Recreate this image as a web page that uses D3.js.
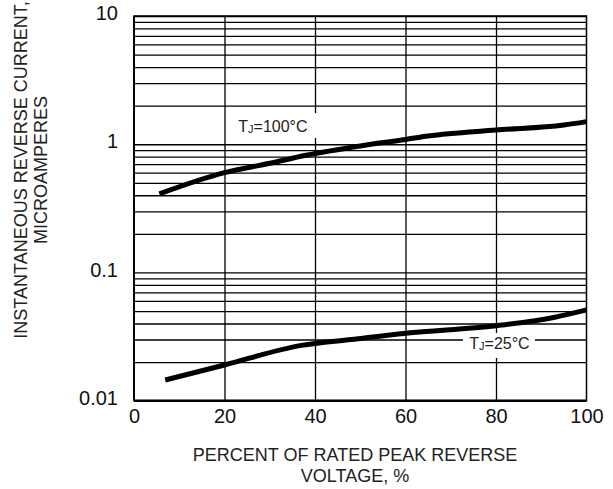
<!DOCTYPE html>
<html>
<head>
<meta charset="utf-8">
<script src="https://cdn.jsdelivr.net/npm/d3@7"></script>
<style>
  html, body { margin: 0; padding: 0; background: #fff; }
  svg { display: block; font-family: "Liberation Sans", Arial, sans-serif; }
</style>
</head>
<body>
<svg id="chart" width="613" height="489"></svg>
<script>
// ---- data ----
const xTicks = [0, 20, 40, 60, 80, 100];
const yTicks = [0.01, 0.1, 1, 10];
const yTickLabels = ["0.01", "0.1", "1", "10"];

const pct100 = [5.6, 20, 30, 38, 50, 60, 65, 80, 95, 100];
const cur100 = [0.41, 0.60, 0.71, 0.82, 0.97, 1.09, 1.16, 1.29, 1.41, 1.50];

const pct25 = [6.9, 20, 37, 48, 60, 80, 93, 100];
const cur25 = [0.0145, 0.019, 0.027, 0.030, 0.0336, 0.0384, 0.0448, 0.0511];

const seriesLabels = [
  { t: "T", sub: "J", rest: "=100°C", x: 65, y: 1.55 },
  { t: "T", sub: "J", rest: "=25°C", x: 83, y: 0.0245 }
];

// ---- layout ----
const svg = d3.select("#chart");
const L = 134, R = 586.5, T = 16, B = 400.7;

const x = d3.scaleLinear().domain([0, 100]).range([L, R]);
const y = d3.scaleLog().domain([0.01, 10]).range([B, T]);

// minor log grid values
const gridVals = [];
for (let d = 0.01; d < 10; d *= 10) {
  for (let k = 1; k <= 9; k++) gridVals.push(+(k * d).toPrecision(3));
}
gridVals.push(10);

// horizontal gridlines
svg.append("g")
  .attr("transform", `translate(${L},0)`)
  .call(d3.axisLeft(y).tickValues(gridVals).tickFormat("").tickSizeInner(-(R - L)).tickSizeOuter(0))
  .call(g => g.select(".domain").remove())
  .call(g => g.selectAll("line").attr("stroke", "#000").attr("stroke-width", 1.3));

// vertical gridlines
svg.append("g")
  .attr("transform", `translate(0,${B})`)
  .call(d3.axisBottom(x).tickValues([20, 40, 60, 80]).tickFormat("").tickSizeInner(-(B - T)).tickSizeOuter(0))
  .call(g => g.select(".domain").remove())
  .call(g => g.selectAll("line").attr("stroke", "#000").attr("stroke-width", 1.3));

// frame
svg.append("rect")
  .attr("x", L).attr("y", T).attr("width", R - L).attr("height", B - T)
  .attr("fill", "none").attr("stroke", "#000").attr("stroke-width", 1.5);
svg.append("line").attr("x1", L).attr("x2", R).attr("y1", B).attr("y2", B)
  .attr("stroke", "#000").attr("stroke-width", 2.2);
svg.append("line").attr("x1", L).attr("x2", L).attr("y1", T).attr("y2", B)
  .attr("stroke", "#000").attr("stroke-width", 2);

// tick labels
svg.append("g")
  .attr("transform", `translate(0,${B})`)
  .call(d3.axisBottom(x).tickValues(xTicks).tickFormat(d3.format("d")).tickSize(0).tickPadding(8))
  .call(g => g.select(".domain").remove())
  .call(g => g.selectAll("text").attr("font-size", 20).attr("fill", "#111")
    .attr("font-family", "'Liberation Sans', Arial, sans-serif"));

svg.append("g")
  .attr("transform", `translate(${L},0)`)
  .call(d3.axisLeft(y).tickValues(yTicks).tickFormat((d, i) => yTickLabels[i]).tickSize(0).tickPadding(16))
  .call(g => g.select(".domain").remove())
  .call(g => g.selectAll("text").attr("font-size", 20).attr("fill", "#111").attr("dy", "0.18em")
    .attr("font-family", "'Liberation Sans', Arial, sans-serif"));

// series label boxes
const boxes = [
  { x0: 235, x1: 317, y0: 113, y1: 138 },
  { x0: 463, x1: 535, y0: 333, y1: 358 }
];
svg.selectAll("rect.lblbox").data(boxes).enter().append("rect")
  .attr("class", "lblbox")
  .attr("x", d => d.x0).attr("y", d => d.y0)
  .attr("width", d => d.x1 - d.x0).attr("height", d => d.y1 - d.y0)
  .attr("fill", "#fff");

// curves
const line = d3.line().x(d => x(d[0])).y(d => y(d[1])).curve(d3.curveMonotoneX);
[[pct100, cur100], [pct25, cur25]].forEach(([px, cy]) => {
  svg.append("path")
    .datum(px.map((p, i) => [p, cy[i]]))
    .attr("d", line)
    .attr("fill", "none").attr("stroke", "#000").attr("stroke-width", 5);
});

// series labels
const lblPos = [[238.3, 131.7], [469.3, 349.3]];
seriesLabels.forEach((s, i) => {
  const t = svg.append("text")
    .attr("x", lblPos[i][0]).attr("y", lblPos[i][1])
    .attr("font-size", 16).attr("fill", "#222");
  t.append("tspan").text(s.t);
  t.append("tspan").attr("font-size", 11).attr("dy", 1).text(s.sub);
  t.append("tspan").attr("dy", -1).text(s.rest);
});

// axis titles
const xTitle = svg.append("text")
  .attr("text-anchor", "middle").attr("font-size", 18).attr("fill", "#222");
xTitle.append("tspan").attr("x", 355).attr("y", 461).text("PERCENT OF RATED PEAK REVERSE");
xTitle.append("tspan").attr("x", 355).attr("y", 482).text("VOLTAGE, %");

const yTitle = svg.append("text")
  .attr("text-anchor", "middle").attr("font-size", 18).attr("fill", "#222")
  .attr("transform", "translate(0,170) rotate(-90)");
yTitle.append("tspan").attr("x", 0).attr("y", 27).text("INSTANTANEOUS REVERSE CURRENT,");
yTitle.append("tspan").attr("x", 0).attr("y", 47).text("MICROAMPERES");
</script>
</body>
</html>
